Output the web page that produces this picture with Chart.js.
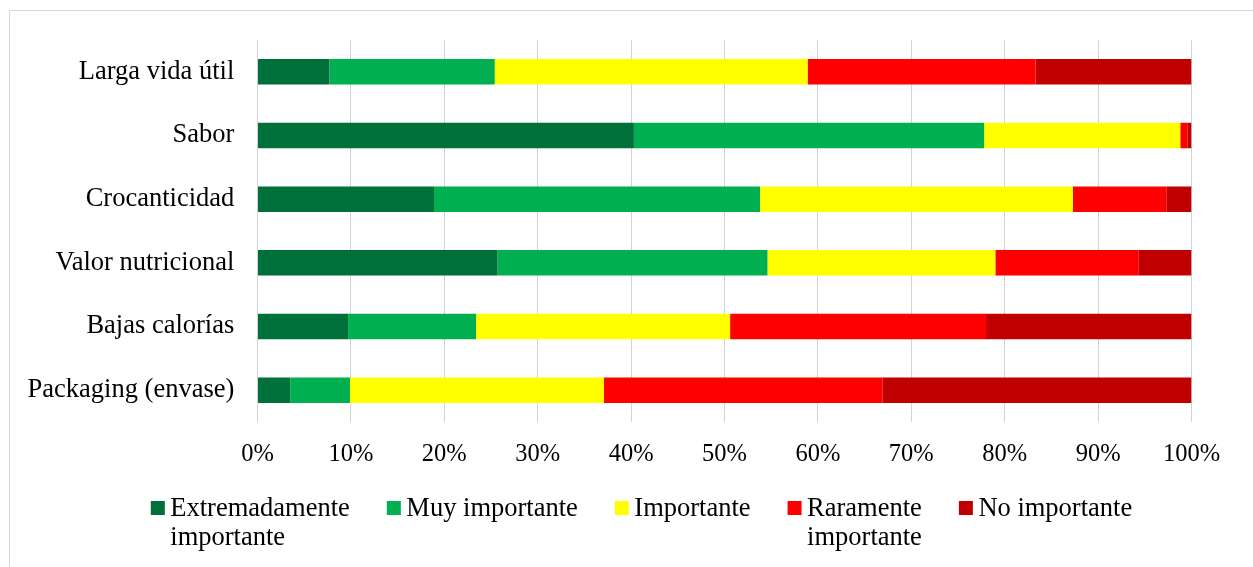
<!DOCTYPE html>
<html>
<head>
<meta charset="utf-8">
<script src="https://cdn.jsdelivr.net/npm/chart.js"></script>
<style>
  html, body { margin: 0; padding: 0; background: #ffffff; }
  #c { display: block; }
</style>
</head>
<body>
<canvas id="c" width="1253" height="567" style="width:1253px;height:567px"></canvas>
<script>
// ---- Data (percent of respondents) ----
const categories = ["Larga vida útil", "Sabor", "Crocanticidad", "Valor nutricional", "Bajas calorías", "Packaging (envase)"];
const seriesNames = [["Extremadamente", "importante"], "Muy importante", "Importante", ["Raramente", "importante"], "No importante"];
const extremadamente = [7.7, 40.3, 18.9, 25.7, 9.7, 3.5];
const muyImportante  = [17.7, 37.5, 34.9, 28.9, 13.7, 6.4];
const importante     = [33.5, 21.0, 33.5, 24.4, 27.2, 27.2];
const raramente      = [24.4, 0.75, 10.0, 15.3, 27.4, 29.8];
const noImportante   = [16.7, 0.45, 2.7, 5.7, 22.0, 33.1];
const tickValues = [0, 10, 20, 30, 40, 50, 60, 70, 80, 90, 100];

const colors = ["#00703A", "#00B050", "#FFFF00", "#FF0000", "#C00000"];
const seriesValues = [extremadamente, muyImportante, importante, raramente, noImportante];

const FONT = "'Liberation Serif', 'Times New Roman', serif";

const frame = {
  id: 'frame',
  beforeDraw(chart) {
    const ctx = chart.ctx;
    ctx.save();
    ctx.fillStyle = '#ffffff';
    ctx.fillRect(0, 0, chart.width, chart.height);
    ctx.strokeStyle = '#d9d9d9';
    ctx.lineWidth = 1;
    ctx.strokeRect(9.5, 10.5, 1400, 800);
    ctx.restore();
  }
};

const customLegend = {
  id: 'customLegend',
  afterDraw(chart, args, opts) {
    const ctx = chart.ctx;
    ctx.save();
    ctx.font = opts.fontSize + "px " + FONT;
    ctx.fillStyle = '#000000';
    ctx.textBaseline = 'alphabetic';
    ctx.textAlign = 'left';
    const items = chart.data.datasets.map(ds => {
      const lines = Array.isArray(ds.label) ? ds.label : [ds.label];
      const w = Math.max(...lines.map(l => ctx.measureText(l).width));
      return { lines, w, color: ds.backgroundColor };
    });
    const total = items.reduce((s, it) => s + opts.box + opts.textGap + it.w, 0) + opts.itemGap * (items.length - 1);
    let x = opts.centerX - total / 2;
    items.forEach(it => {
      ctx.fillStyle = it.color;
      ctx.fillRect(x, opts.boxTop, opts.box, opts.box);
      ctx.fillStyle = '#000000';
      it.lines.forEach((l, i) => {
        ctx.fillText(l, x + opts.box + opts.textGap, opts.baseline + i * opts.lineHeight);
      });
      x += opts.box + opts.textGap + it.w + opts.itemGap;
    });
    ctx.restore();
  }
};

new Chart(document.getElementById('c'), {
  type: 'bar',
  data: {
    labels: categories,
    datasets: seriesNames.map((name, i) => ({
      label: name,
      data: seriesValues[i],
      backgroundColor: colors[i],
      borderWidth: 0,
      barPercentage: 0.4,
      categoryPercentage: 1.0
    }))
  },
  options: {
    indexAxis: 'y',
    responsive: false,
    animation: false,
    devicePixelRatio: 1,
    layout: { padding: { top: 40, right: 61.5, bottom: 85, left: 0 } },
    plugins: {
      legend: { display: false },
      tooltip: { enabled: false },
      customLegend: {
        fontSize: 26.5, box: 14, textGap: 5.5, itemGap: 37,
        centerX: 641.5, boxTop: 501, baseline: 516, lineHeight: 29
      }
    },
    scales: {
      x: {
        stacked: true,
        min: 0,
        max: 100,
        afterBuildTicks(scale) { scale.ticks = tickValues.map(v => ({ value: v })); },
        afterFit(scale) { scale.height = 60; },
        ticks: {
          color: '#000000',
          font: { family: FONT, size: 24.5 },
          padding: 18,
          maxRotation: 0,
          autoSkip: false,
          callback: v => v + '%'
        },
        grid: { color: '#d2d2d2', lineWidth: 1, drawTicks: false },
        border: { display: false }
      },
      y: {
        stacked: true,
        afterFit(scale) { scale.width = 257.5; },
        ticks: {
          color: '#000000',
          font: { family: FONT, size: 26.5 },
          padding: 23.2,
          autoSkip: false
        },
        grid: { display: false, drawTicks: false },
        border: { display: false }
      }
    }
  },
  plugins: [frame, customLegend]
});
</script>
</body>
</html>
